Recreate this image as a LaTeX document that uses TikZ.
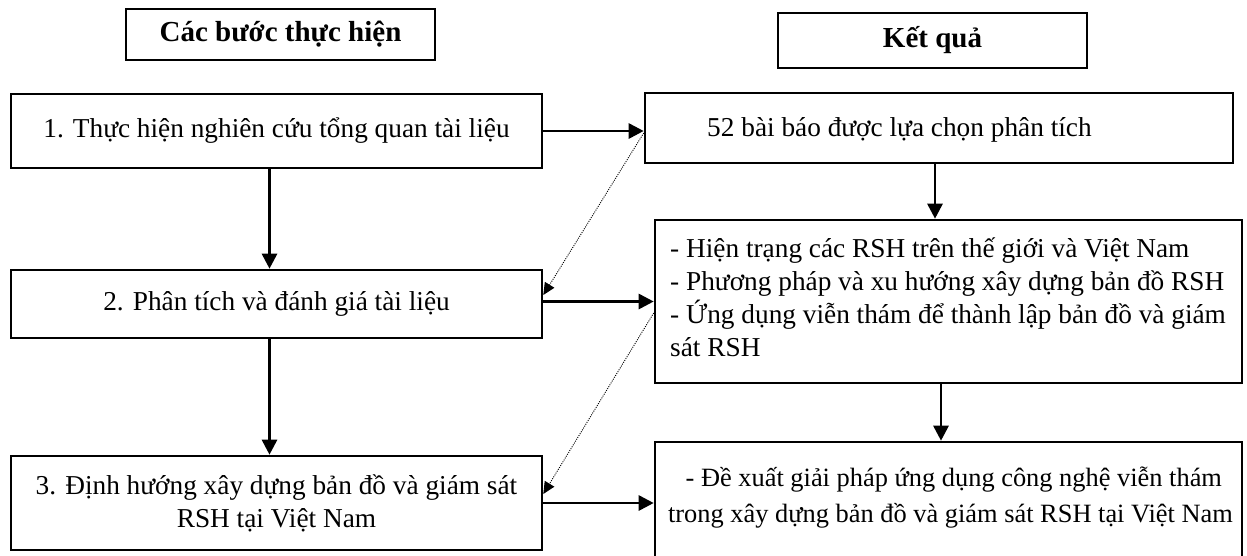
\documentclass[tikz,border=0pt]{standalone}
\usepackage{fontspec}
\setmainfont{Liberation Serif}
\usepackage{tikz}
\usetikzlibrary{calc, arrows.meta}

\tikzset{
	box/.style = {draw, line width = 2.6pt, inner sep = 0pt, font = \fontsize{27.3}{33}\selectfont},
	head/.style = {box, font = \fontsize{29}{33}\selectfont\bfseries},
	flow/.style = {line width = 2.8pt, -{Triangle[length = 15pt, width = 15pt]}},
	hint/.style = {line width = 0.9pt, dash pattern = on 1pt off 1.2pt, -{Triangle[length = 12pt, width = 11pt]}}
}

\begin{document}
\begin{tikzpicture}[x = 1pt, y = -1pt]
		\def\wl{531};
		\def\wr{587};
		
		\useasboundingbox (0,0) rectangle (1247,555);
		\clip (0,0) rectangle (1247,555);
		
		% headers
		\node [head, minimum width = 309pt, minimum height = 51pt] (steps head) at (280.5,34.5) {Các bước thực hiện};
		\node [head, minimum width = 309pt, minimum height = 55pt] (result head) at (932.5,40.5) {Kết quả};
		
		% left column
		\node [box, minimum width = \wl pt, minimum height = 74pt] (step one) at (276.5,131) {1. Thực hiện nghiên cứu tổng quan tài liệu};
		\node [box, minimum width = \wl pt, minimum height = 68pt] (step two) at (276.5,304) {2. Phân tích và đánh giá tài liệu};
		\node [box, minimum width = \wl pt, minimum height = 94pt, align = center] (step three) at (276.5,503) {3. Định hướng xây dựng bản đồ và giám sát\\RSH tại Việt Nam};
		
		% right column
		\node [box, minimum width = 588pt, minimum height = 70pt] (result one) at (939,128) {};
		\node [font = \fontsize{27.3}{33}\selectfont, anchor = west] at ($(result one.west) + (60,2)$) {52 bài báo được lựa chọn phân tích};
		\node [box, minimum width = \wr pt, minimum height = 163pt] (result two) at (948.5,301.5) {};
		\node [font = \fontsize{27.3}{33}\selectfont, align = left, anchor = west] at ($(result two.west) + (13,-4)$) {- Hiện trạng các RSH trên thế giới và Việt Nam\\- Phương pháp và xu hướng xây dựng bản đồ RSH\\- Ứng dụng viễn thám để thành lập bản đồ và giám\\sát RSH};
		\node [box, minimum width = \wr pt, minimum height = 158pt] (result three) at (948.5,521) {};
		\node [font = \fontsize{26.4}{36}\selectfont, align = center] at ($(result three.north) + (2,57)$) {\ - Đề xuất giải pháp ứng dụng công nghệ viễn thám\\trong xây dựng bản đồ và giám sát RSH tại Việt Nam};
		
		% connectors
		\draw [flow] (step one.east) -- (step one.east -| result one.west);
		\draw [flow] (step two.east |- result two.west) -- (result two.west);
		\draw [flow] (step three.east) -- (step three.east -| result three.west);
		
		\draw [flow] ([xshift = -7pt]step one.south) -- ([xshift = -7pt]step two.north);
		\draw [flow] ([xshift = -7pt]step two.south) -- ([xshift = -7pt]step three.north);
		\draw [flow] ([xshift = -4pt]result one.south) -- ([xshift = -4pt]result one.south |- result two.north);
		\draw [flow] ([xshift = -7.5pt]result two.south) -- ([xshift = -7.5pt]result two.south |- result three.north);
		
		\draw [hint] ([yshift = -5pt]result one.west) -- ([yshift = 9pt]step two.east);
		\draw [hint] ([yshift = -11.5pt]result two.west) -- ([yshift = 9pt]step three.east);
	\end{tikzpicture}
\end{document}
